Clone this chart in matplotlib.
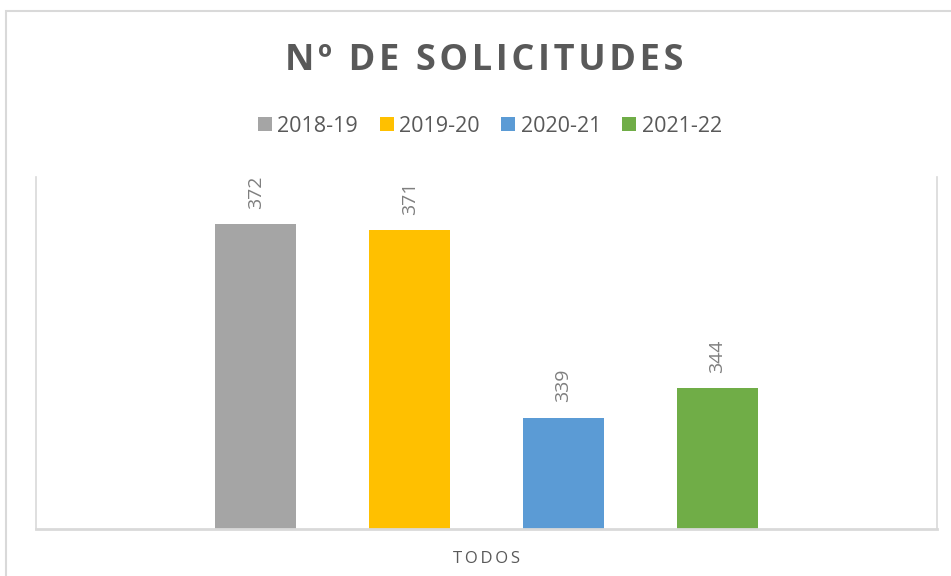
import matplotlib.pyplot as plt
from matplotlib.patches import Rectangle
import numpy as np

# data
category = ['TODOS']
seasons = ['2018-19', '2019-20', '2020-21', '2021-22']
requests = [372, 371, 339, 344]
colors = ['#A5A5A5', '#FFC000', '#5B9BD5', '#70AD47']

plt.rcParams['font.family'] = ['Open Sans', 'DejaVu Sans']


def spaced(s, sep='\u200a'):
    # fake letter spacing
    return sep.join(s)


fig = plt.figure(figsize=(9.51, 5.76), dpi=100)
ax = fig.add_axes([36 / 951, 47 / 576, 901 / 951, 352 / 576])

# chart border (light gray frame like the Excel chart area)
fig.patches.append(Rectangle((6 / 951, -0.1), 1.2, 1 - 11 / 576 + 0.1,
                             transform=fig.transFigure, fill=False,
                             edgecolor='#d9d9d9', linewidth=1.5))

x = np.arange(len(seasons))
bars = ax.bar(x, requests, width=0.527, color=colors, label=seasons, zorder=2)

# data labels, rotated
for b, v in zip(bars, requests):
    ax.annotate(str(v), (b.get_x() + b.get_width() / 2, v),
                xytext=(0, 11), textcoords='offset points',
                rotation=90, ha='center', va='bottom',
                color='#7f7f7f', fontsize=14)

ax.set_xlim(-1.43, 4.43)
ax.set_ylim(320, 380)
ax.set_yticks([])
ax.set_xticks([1.5], [spaced(c, '\u2009') for c in category])
ax.tick_params(axis='x', length=0, pad=16, labelsize=12, labelcolor='#595959')

for s in ['left', 'right']:
    ax.spines[s].set_color('#d9d9d9')
    ax.spines[s].set_linewidth(1.2)
ax.spines['bottom'].set_color('#d9d9d9')
ax.spines['bottom'].set_linewidth(2)
ax.spines['top'].set_visible(False)

# title and legend
fig.text(484 / 951, 1 - 61 / 576, spaced('Nº DE SOLICITUDES'), ha='center', va='center',
         fontsize=26, fontweight='bold', color='#595959')

fig.legend(loc='center', bbox_to_anchor=(490 / 951, 1 - 126 / 576), ncol=4,
           frameon=False, handlelength=0.65, handleheight=0.65,
           handletextpad=0.25, columnspacing=1.0, fontsize=15.5,
           labelcolor='#595959')

fig.savefig('out.png', dpi=100)
